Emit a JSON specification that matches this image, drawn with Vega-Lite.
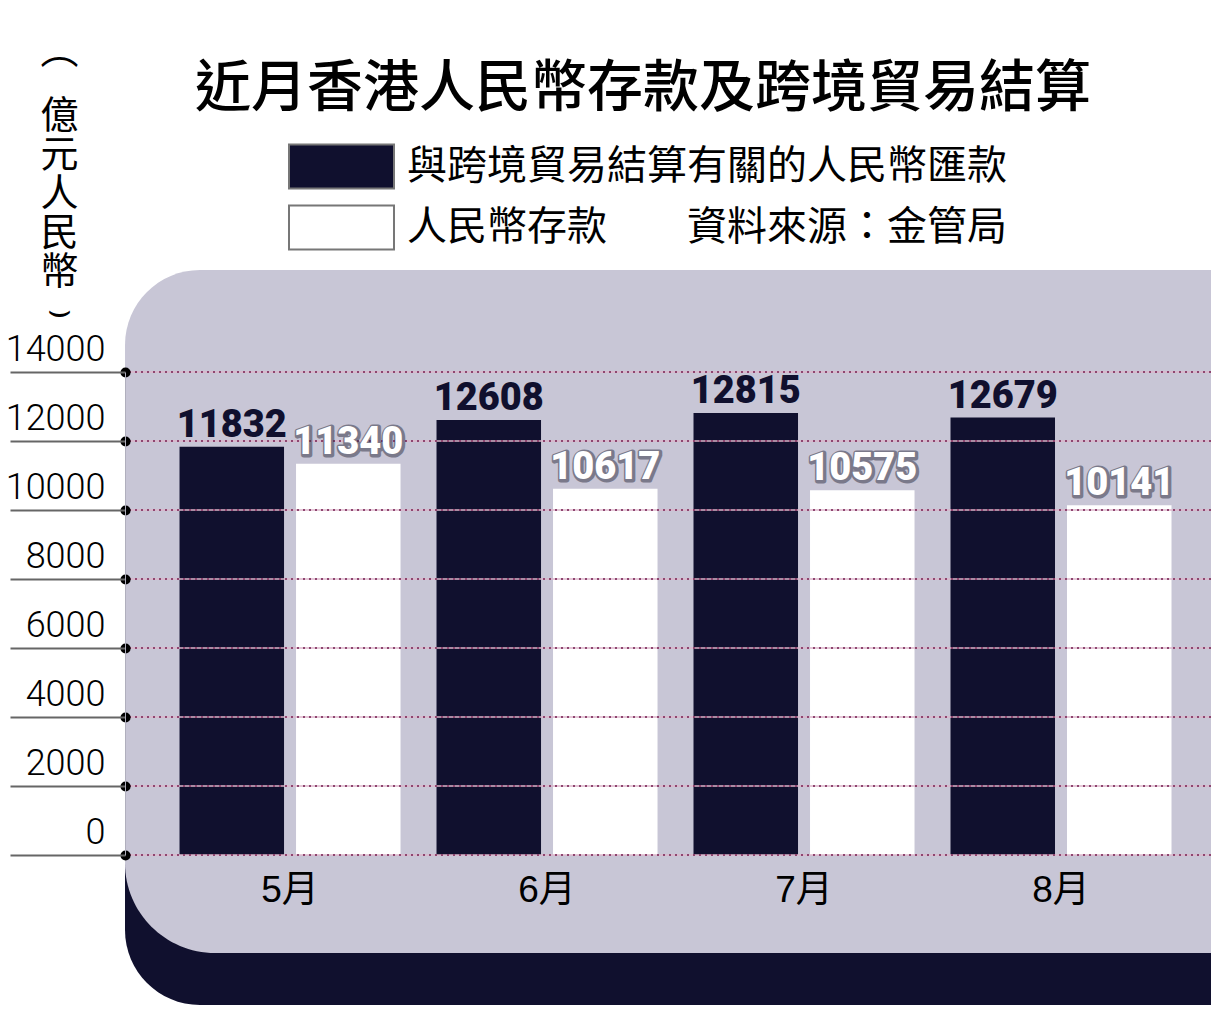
{
  "$schema": "https://vega.github.io/schema/vega-lite/v6.json",
  "width": 1086,
  "height": 483,
  "autosize": {"type": "none"},
  "padding": {"left": 125, "top": 372, "right": 0, "bottom": 176},
  "background": "white",
  "title": {
    "text": "近月香港人民幣存款及跨境貿易結算",
    "font": "Noto Sans CJK TC",
    "fontSize": 56,
    "fontWeight": 500,
    "color": "black",
    "anchor": "middle",
    "frame": "group",
    "dx": -25,
    "offset": -60
  },
  "datasets": {
    "deposits": [
      {"month": "5月", "series": "與跨境貿易結算有關的人民幣匯款", "value": 11832},
      {"month": "5月", "series": "人民幣存款", "value": 11340},
      {"month": "6月", "series": "與跨境貿易結算有關的人民幣匯款", "value": 12608},
      {"month": "6月", "series": "人民幣存款", "value": 10617},
      {"month": "7月", "series": "與跨境貿易結算有關的人民幣匯款", "value": 12815},
      {"month": "7月", "series": "人民幣存款", "value": 10575},
      {"month": "8月", "series": "與跨境貿易結算有關的人民幣匯款", "value": 12679},
      {"month": "8月", "series": "人民幣存款", "value": 10141}
    ],
    "gridlines": [
      {"tick": 0}, {"tick": 2000}, {"tick": 4000}, {"tick": 6000},
      {"tick": 8000}, {"tick": 10000}, {"tick": 12000}, {"tick": 14000}
    ]
  },
  "data": {"name": "deposits"},
  "layer": [
    {
      "data": {"values": [{}]},
      "mark": {"type": "rect", "color": "#10102e", "cornerRadiusBottomLeft": 100},
      "encoding": {
        "y": {"datum": -4348, "type": "quantitative", "scale": {"domain": [0, 14000], "nice": false}},
        "y2": {"datum": 0}
      }
    },
    {
      "data": {"values": [{}]},
      "mark": {"type": "rect", "color": "#c8c6d6", "cornerRadiusTopLeft": 75, "cornerRadiusBottomLeft": 90},
      "encoding": {
        "y": {"datum": -2841, "type": "quantitative", "scale": {"domain": [0, 14000], "nice": false}},
        "y2": {"datum": 16957}
      }
    },
    {
      "mark": {"type": "bar", "strokeWidth": 0},
      "encoding": {
        "x": {
          "field": "month",
          "type": "nominal",
          "sort": ["5月", "6月", "7月", "8月"],
          "scale": {"paddingInner": 0.14, "paddingOuter": 0.1829, "align": 0.58},
          "axis": {
            "title": null,
            "zindex": 1,
            "domain": false,
            "ticks": false,
            "grid": false,
            "labelAngle": 0,
            "labelFont": "Liberation Sans, Noto Sans CJK TC",
            "labelFontSize": 37,
            "labelColor": "black",
            "labelPadding": 17
          }
        },
        "xOffset": {
          "field": "series",
          "sort": ["與跨境貿易結算有關的人民幣匯款", "人民幣存款"],
          "scale": {"paddingInner": 0.103, "paddingOuter": 0}
        },
        "y": {
          "field": "value",
          "type": "quantitative",
          "scale": {"domain": [0, 14000], "nice": false},
          "axis": {
            "values": [0, 2000, 4000, 6000, 8000, 10000, 12000, 14000],
            "format": "d",
            "zindex": 1,
            "title": ["⌒", "億", "元", "人", "民", "幣", "⌣"],
            "titleAngle": 0,
            "titleX": -66,
            "titleY": -314,
            "titleAlign": "center",
            "titleBaseline": "top",
            "titleFont": "Noto Sans CJK TC",
            "titleFontSize": 38,
            "titleFontWeight": "normal",
            "titleLineHeight": 39,
            "titleColor": "black",
            "domain": true,
            "domainColor": "#b0afbd",
            "domainWidth": 1,
            "tickSize": 115,
            "tickColor": "#666666",
            "tickWidth": 2,
            "labelPadding": -95,
            "labelOffset": -12,
            "labelBaseline": "alphabetic",
            "labelFont": "Roboto",
            "labelFontWeight": 300,
            "labelFontSize": 36,
            "labelColor": "black",
            "grid": true,
            "gridColor": "black",
            "gridWidth": 10,
            "gridDash": [0.1, 3000],
            "gridCap": "round"
          }
        },
        "color": {
          "field": "series",
          "type": "nominal",
          "scale": {
            "domain": ["與跨境貿易結算有關的人民幣匯款", "人民幣存款"],
            "range": ["#10102e", "#ffffff"]
          },
          "legend": {
            "orient": "none",
            "legendX": 189,
            "legendY": -233,
            "title": null,
            "direction": "vertical",
            "symbolType": "M-2,-0.84H2V0.84H-2Z",
            "symbolSize": 2756,
            "symbolOpacity": 1,
            "symbolStrokeColor": "#777777",
            "symbolStrokeWidth": 2,
            "labelFont": "Noto Sans CJK TC",
            "labelFontSize": 40,
            "labelColor": "black",
            "labelOffset": 38,
            "labelLimit": 1000,
            "rowPadding": 7,
            "labelExpr": "datum.label === '人民幣存款' ? '人民幣存款\u3000\u3000資料來源：金管局' : datum.label"
          }
        }
      }
    },
    {
      "data": {"name": "gridlines"},
      "mark": {"type": "rule", "color": "#dcb4ca", "strokeWidth": 1.5},
      "encoding": {"y": {"field": "tick", "type": "quantitative"}}
    },
    {
      "data": {"name": "gridlines"},
      "mark": {"type": "rule", "color": "#8e4670", "strokeWidth": 2, "strokeDash": [2, 4]},
      "encoding": {"y": {"field": "tick", "type": "quantitative"}}
    },
    {
      "transform": [{"filter": "datum.series === '與跨境貿易結算有關的人民幣匯款'"}],
      "mark": {
        "type": "text",
        "font": "Roboto",
        "fontWeight": 900,
        "fontSize": 38,
        "color": "#10102e",
        "baseline": "alphabetic",
        "dy": -10
      },
      "encoding": {
        "x": {"field": "month", "type": "nominal", "sort": ["5月", "6月", "7月", "8月"]},
        "xOffset": {"field": "series", "sort": ["與跨境貿易結算有關的人民幣匯款", "人民幣存款"]},
        "y": {"field": "value", "type": "quantitative"},
        "text": {"field": "value", "type": "quantitative", "format": "d"}
      }
    },
    {
      "transform": [{"filter": "datum.series === '人民幣存款'"}],
      "mark": {
        "type": "text",
        "font": "Roboto",
        "fontWeight": 900,
        "fontSize": 38,
        "color": "#2e2e40",
        "stroke": "#2e2e40",
        "strokeWidth": 5,
        "strokeJoin": "round",
        "opacity": 0.5,
        "baseline": "alphabetic",
        "dy": -9,
        "dx": 1
      },
      "encoding": {
        "x": {"field": "month", "type": "nominal", "sort": ["5月", "6月", "7月", "8月"]},
        "xOffset": {"field": "series", "sort": ["與跨境貿易結算有關的人民幣匯款", "人民幣存款"]},
        "y": {"field": "value", "type": "quantitative"},
        "text": {"field": "value", "type": "quantitative", "format": "d"}
      }
    },
    {
      "transform": [{"filter": "datum.series === '人民幣存款'"}],
      "mark": {
        "type": "text",
        "font": "Roboto",
        "fontWeight": 900,
        "fontSize": 38,
        "color": "#ffffff",
        "baseline": "alphabetic",
        "dy": -10
      },
      "encoding": {
        "x": {"field": "month", "type": "nominal", "sort": ["5月", "6月", "7月", "8月"]},
        "xOffset": {"field": "series", "sort": ["與跨境貿易結算有關的人民幣匯款", "人民幣存款"]},
        "y": {"field": "value", "type": "quantitative"},
        "text": {"field": "value", "type": "quantitative", "format": "d"}
      }
    }
  ]
}
